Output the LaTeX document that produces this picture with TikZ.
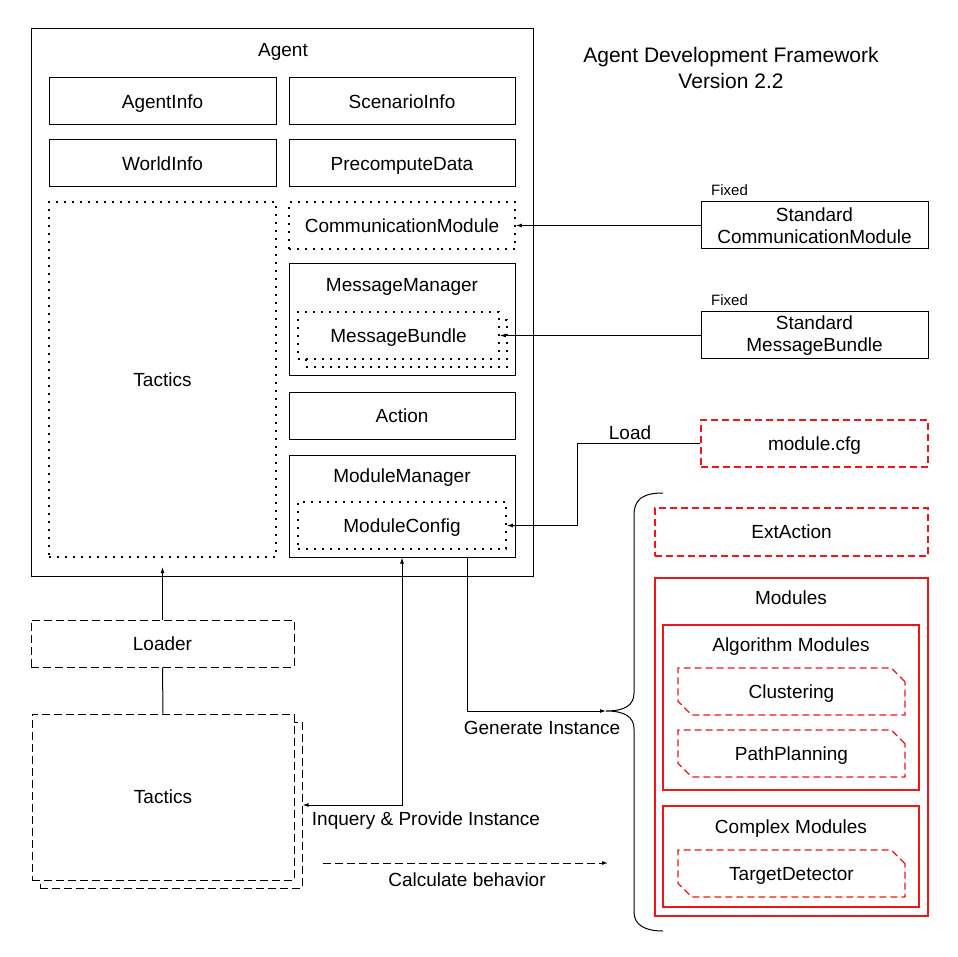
\documentclass[tikz,border=0pt]{standalone}
\usepackage{fontspec}
\setmainfont{Liberation Sans}
\usetikzlibrary{arrows.meta,shapes.misc}
\definecolor{modred}{RGB}{240,20,20}

\begin{document}
\begin{tikzpicture}[x=1pt,y=-1pt,
  every node/.style={font=\fontsize{19}{22}\selectfont,text height=13.5pt,text depth=0pt},
  twoline/.style={align=center,text height={},text depth={}},
  box/.style={draw,line width=1pt,rectangle,fill=white,inner sep=0pt},
  dotbox/.style={box,dash pattern=on 2pt off 6pt,line width=1.6pt},
  dashbox/.style={box,dash pattern=on 8pt off 4pt},
  redbox/.style={rectangle,inner sep=0pt},
  redline/.style={draw=modred,line width=1.5pt},
  reddash/.style={box,draw=modred,line width=1.2pt,dash pattern=on 7pt off 4pt},
  redcham/.style={reddash,chamfered rectangle,chamfered rectangle corners={north east,south west},chamfered rectangle sep=7pt},
  fixed/.style={font=\fontsize{15}{18}\selectfont,anchor=west,inner sep=0pt,text height=11pt},
  conn/.style={line width=1pt,-{Latex[length=6pt,width=4pt]}}]
\useasboundingbox (0,0) rectangle (958,957);

%Title
\node[font=\fontsize{21}{26}\selectfont,twoline] (title) at (731,68) {Agent Development Framework\\Version 2.2};

%Agent and its parts
\node[box,minimum width=502,minimum height=547] (agent) at (282,302.5) {};
\node (agentlbl) at (283,50) {Agent};
\node[box,minimum width=227,minimum height=47] (agentinfo) at (162.5,101.5) {AgentInfo};
\node[box,minimum width=226,minimum height=47] (scenarioinfo) at (402,101.5) {ScenarioInfo};
\node[box,minimum width=227,minimum height=47] (worldinfo) at (162.5,163.5) {WorldInfo};
\node[box,minimum width=226,minimum height=47] (precompute) at (402,163.5) {PrecomputeData};
\node[dotbox,minimum width=227,minimum height=355] (tactics) at (162.5,379.5) {Tactics};
\node[dotbox,minimum width=226,minimum height=47] (commmod) at (402,225.5) {CommunicationModule};
\node[box,minimum width=226,minimum height=111] (msgmgr) at (402,319.5) {};
\node (msgmgrlbl) at (402,285) {MessageManager};
\node[dotbox,minimum width=201,minimum height=47] (msgbundleb) at (406.5,343.5) {};
\node[dotbox,minimum width=201,minimum height=47] (msgbundle) at (398.5,335.5) {MessageBundle};
\node[box,minimum width=226,minimum height=47] (action) at (402,415.5) {Action};
\node[box,minimum width=226,minimum height=102] (modmgr) at (402,506) {};
\node (modmgrlbl) at (402,476) {ModuleManager};
\node[dotbox,minimum width=208,minimum height=47] (modconfig) at (402,525.5) {ModuleConfig};

%Loader and tactics
\node[dashbox,minimum width=263,minimum height=47] (loader) at (162.5,643.5) {Loader};
\node[dashbox,minimum width=262,minimum height=166] (tacticsb) at (171,805) {};
\node[dashbox,minimum width=262,minimum height=166] (tacticsf) at (163,797) {Tactics};

%Fixed parts
\node[box,twoline,minimum width=227,minimum height=47] (stdcomm) at (814.5,225.5) {Standard\\CommunicationModule};
\node[fixed] (fixed1) at (711,190) {Fixed};
\node[box,twoline,minimum width=227,minimum height=47] (stdmsg) at (814.5,335.5) {Standard\\MessageBundle};
\node[fixed] (fixed2) at (711,300) {Fixed};

%Modules
\node[reddash,minimum width=227,minimum height=47] (modcfg) at (814.5,443.5) {module.cfg};
\node[reddash,minimum width=273,minimum height=48] (extaction) at (791.5,532) {ExtAction};
\node[redbox,minimum width=273,minimum height=338] (modules) at (791.5,747) {};
\node[redbox,minimum width=256,minimum height=165] (algmod) at (791,707.5) {};
\node[redbox,minimum width=256,minimum height=101] (cplxmod) at (791,856.5) {};
\draw[redline] (modules.north west) rectangle (modules.south east);
\draw[redline] (algmod.north west) rectangle (algmod.south east);
\draw[redline] (cplxmod.north west) rectangle (cplxmod.south east);
\node (moduleslbl) at (791,598) {Modules};
\node (algmodlbl) at (791,645) {Algorithm Modules};
\node[redcham,minimum width=227,minimum height=47] (clustering) at (791.5,691.5) {Clustering};
\node[redcham,minimum width=227,minimum height=47] (pathplan) at (791.5,753.5) {PathPlanning};
\node (cplxmodlbl) at (791,827) {Complex Modules};
\node[redcham,minimum width=227,minimum height=47] (targetdet) at (791.5,873.5) {TargetDetector};

%Brace
\coordinate (brtip) at (606,711);
\draw[line width=1pt] (663,493) .. controls (642,493) and (634,500) .. (634,515) -- (634,693) .. controls (634,705) and (625,711) .. (brtip) .. controls (625,711) and (634,717) .. (634,729) -- (634,912) .. controls (634,925) and (645,931) .. (663,931);

%Connectors
\draw[conn] (stdcomm.west) -- (commmod.east);
\draw[conn] (stdmsg.west) -- (msgbundle.east);
\draw[conn] (modcfg.west) -- ++(-123,0) |- (modconfig.east);
\node (loadlbl) at (630,433) {Load};
\coordinate (tacin) at (162.5,567);
\draw[conn] (loader.north) -- (tacin);
\draw[line width=1pt] (loader.south) -- (tacticsf.north);
\draw[conn,{Latex[length=6pt,width=4pt]}-{Latex[length=6pt,width=4pt]}] (modmgr.south) |- (tacticsb.east);
\node (inqlbl) at (426,819) {Inquery \& Provide Instance};
\coordinate (gen) at ([xshift=65pt]modmgr.south);
\draw[conn] (gen) |- (brtip);
\node (genlbl) at (542,728) {Generate Instance};
\coordinate (calcA) at (323,863);
\coordinate (calcB) at (608,863);
\draw[conn,dash pattern=on 8pt off 4pt] (calcA) -- (calcB);
\node (calclbl) at (467,880) {Calculate behavior};

\end{tikzpicture}
\end{document}
